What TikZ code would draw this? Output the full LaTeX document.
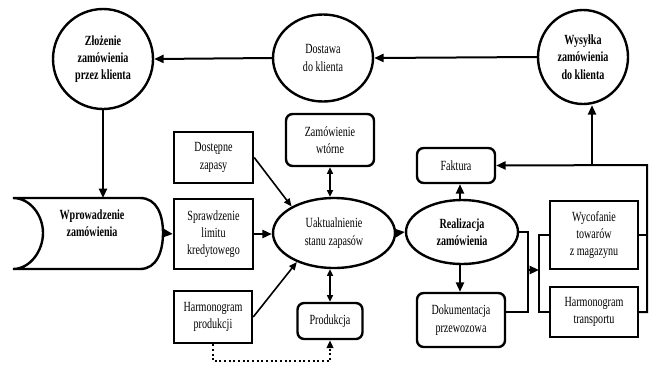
\documentclass[tikz,border=0pt]{standalone}
\usepackage{fontspec}
\setmainfont[FakeStretch=0.72]{Liberation Serif}
\usetikzlibrary{shapes.geometric,arrows.meta}
\begin{document}
\begin{tikzpicture}[x=0.75pt,y=-0.75pt,
  every node/.style={font=\fontsize{10.5}{13}\selectfont, align=center, inner sep=0pt},
  wh/.style 2 args={minimum width=#1*0.75pt, minimum height=#2*0.75pt},
  oval/.style={ellipse, draw, line width=1.8pt},
  sbox/.style={rectangle, draw, line width=1.8pt},
  rbox/.style={rectangle, rounded corners=5pt, draw, line width=1.8pt},
  conn/.style={line width=1.5pt},
  arr/.style={line width=1.5pt, -{Triangle[length=7pt,width=6pt]}},
  darr/.style={line width=0.9pt, {Triangle[length=5pt,width=4.5pt]}-{Triangle[length=5pt,width=4.5pt]}},
  thinarr/.style={line width=1.2pt, -{Triangle[length=6pt,width=5pt]}}
]
\useasboundingbox (0,0) rectangle (652,365);

% top row ellipses
\node[oval, wh={100}{100}] (zl) at (103,59) {\textbf{Złożenie}\\\textbf{zamówienia}\\\textbf{przez klienta}};
\node[oval, wh={100}{87}] (dos) at (323,58) {Dostawa\\do klienta};
\node[oval, wh={90}{94}] (wys) at (583,57) {\textbf{Wysyłka}\\\textbf{zamówienia}\\\textbf{do klienta}};

% stored data shape
\draw[line width=1.8pt] (13,198) -- (140,198)
  .. controls (157,198) and (163,215) .. (163,233)
  .. controls (163,251) and (157,269) .. (140,269)
  -- (13,269)
  .. controls (30,269) and (43,251) .. (43,233)
  .. controls (43,215) and (30,198) .. (13,198) -- cycle;
\node (wpr) at (92,223) {\textbf{Wprowadzenie}\\\textbf{zamówienia}};
\coordinate (wprtop) at (103,198);
\coordinate (wprright) at (163,233);

% left boxes
\node[sbox, wh={79}{51}] (dost) at (213.5,157.5) {Dostępne\\zapasy};
\node[sbox, wh={79}{70}] (spr) at (213.5,234) {Sprawdzenie\\limitu\\kredytowego};
\node[sbox, wh={78}{52}] (hp) at (213,317) {Harmonogram\\produkcji};

% middle
\node[rbox, wh={88}{52}] (zw) at (330,140) {Zamówienie\\wtórne};
\node[oval, wh={122}{70}] (uak) at (334,233) {Uaktualnienie\\stanu zapasów};
\node[rbox, wh={65}{36}] (prod) at (330,321) {Produkcja};

% right
\node[oval, wh={112}{64}] (real) at (462,232) {\textbf{Realizacja}\\\textbf{zamówienia}};
\node[rbox, wh={78}{35}] (fak) at (456,165.5) {Faktura};
\node[rbox, wh={88}{54}] (dok) at (461,320) {Dokumentacja\\przewozowa};
\node[sbox, wh={88}{68}] (wyc) at (594,235) {Wycofanie\\towarów\\z magazynu};
\node[sbox, wh={88}{50}] (ht) at (594,312) {Harmonogram\\transportu};

% top row connectors
\draw[arr] (wys.west) -- (dos.east);
\draw[arr] (dos.west) -- (zl.east);
\draw[arr] (zl.south) -- (wprtop);
\draw[arr] (wprright) -- (spr.west);

% into Uaktualnienie
\draw[thinarr] (dost.east) -- (uak.148);
\draw[arr] (spr.east) -- (spr.east -| uak.west);
\draw[thinarr] (hp.east) -- (uak.218);
\draw[darr] (zw.south) -- (zw.south |- uak.north);
\draw[darr] (prod.north) -- (prod.north |- uak.south);
\draw[line width=1.5pt, dotted, -{Triangle[length=6pt,width=5pt]}] (hp.south) -- ++(0,17) -| (prod.south);

% Realizacja
\draw[arr] (uak.east) -- (real.west);
\coordinate (rx) at (460,0);
\draw[arr] (rx |- real.north) -- (rx |- fak.south);
\draw[arr] (rx |- real.south) -- (rx |- dok.north);

% brackets
\coordinate (bl) at (528,312);
\coordinate (br) at (539,312);
\coordinate (ar) at (528,270);
\coordinate (ae) at (539,270);
\draw[conn] (real.east) -| (bl) -- (bl -| dok.east);
\draw[conn] (wyc.west) -| (br) -- (ht.west);
\draw[arr] (ar) -- (ae);

% right return line
\coordinate (rr) at (647,165);
\coordinate (rb) at (592,165);
\draw[conn] (wyc.east) -- (wyc.east -| rr);
\draw[arr] (ht.east) -| (rr) -- (fak.east);
\draw[arr] (rb) -- (rb |- wys.south);
\end{tikzpicture}
\end{document}
